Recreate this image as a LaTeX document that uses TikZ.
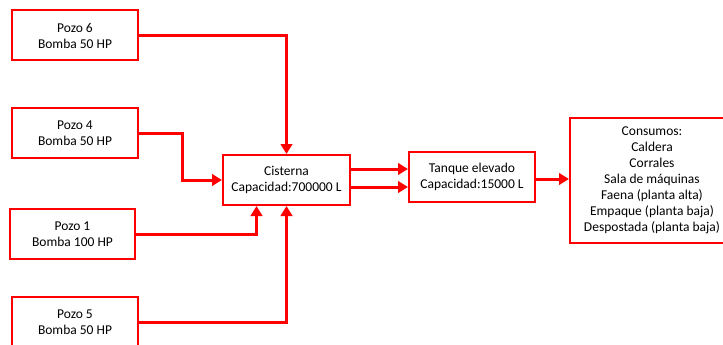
\documentclass[tikz,border=0pt]{standalone}
\usepackage{fontspec}
\setmainfont{Carlito}
\usepackage{tikz}
\usetikzlibrary{arrows.meta, positioning, calc}
\definecolor{pipeRed}{HTML}{FF0000}

\begin{document}
\begin{tikzpicture}[
    x=1pt, y=-1pt,
    box/.style={
      rectangle, draw=pipeRed, line width=2pt, fill=white,
      minimum width=126pt, minimum height=50pt, inner sep=2pt,
      font=\fontsize{13.5}{16}\selectfont, align=center
    },
    flow/.style={-{Triangle[length=10pt,width=11.5pt]}, line width=3pt, pipeRed},
  ]
  \useasboundingbox (0,0) rectangle (723,345);
  \clip (0,0) rectangle (723,345);

  %% -- Pozos --
  \node[box] (pozo6) at (75,35.5) {Pozo 6\\Bomba 50 HP};
  \node[box] (pozo4) at (75,133)  {Pozo 4\\Bomba 50 HP};
  \node[box, minimum width=125pt] (pozo1) at (72.5,234) {Pozo 1\\Bomba 100 HP};
  \node[box] (pozo5) at (75,322)  {Pozo 5\\Bomba 50 HP};

  %% -- Almacenamiento --
  \node[box, minimum width=127pt] (cisterna) at (286.5,180) {Cisterna\\Capacidad:700000 L};
  \node[box] (tanque) at (472,177) {Tanque elevado\\Capacidad:15000 L};

  %% -- Consumos --
  \node[box, minimum width=164pt, minimum height=125pt] (consumos) at (652,180.5)
    {Consumos:\\Caldera\\Corrales\\Sala de máquinas\\Faena (planta alta)\\Empaque (planta baja)\\Despostada (planta baja)};

  %% -- Tuberías --
  \draw[flow] (pozo6.east) -| (cisterna.north);
  \draw[flow] (pozo4.east) -- ++(43,0) |- (cisterna.west);
  \draw[flow] (pozo1.east) -| ([xshift=-30pt]cisterna.south);
  \draw[flow] (pozo5.east) -| (cisterna.south);
  \draw[flow] ([yshift=11pt]cisterna.east) -- ([yshift=11pt]cisterna.east -| tanque.west);
  \draw[flow] ([yshift=-7pt]cisterna.east) -- ([yshift=-7pt]cisterna.east -| tanque.west);
  \draw[flow] ([yshift=-2pt]tanque.east) -- ([yshift=-2pt]tanque.east -| consumos.west);

\end{tikzpicture}
\end{document}
